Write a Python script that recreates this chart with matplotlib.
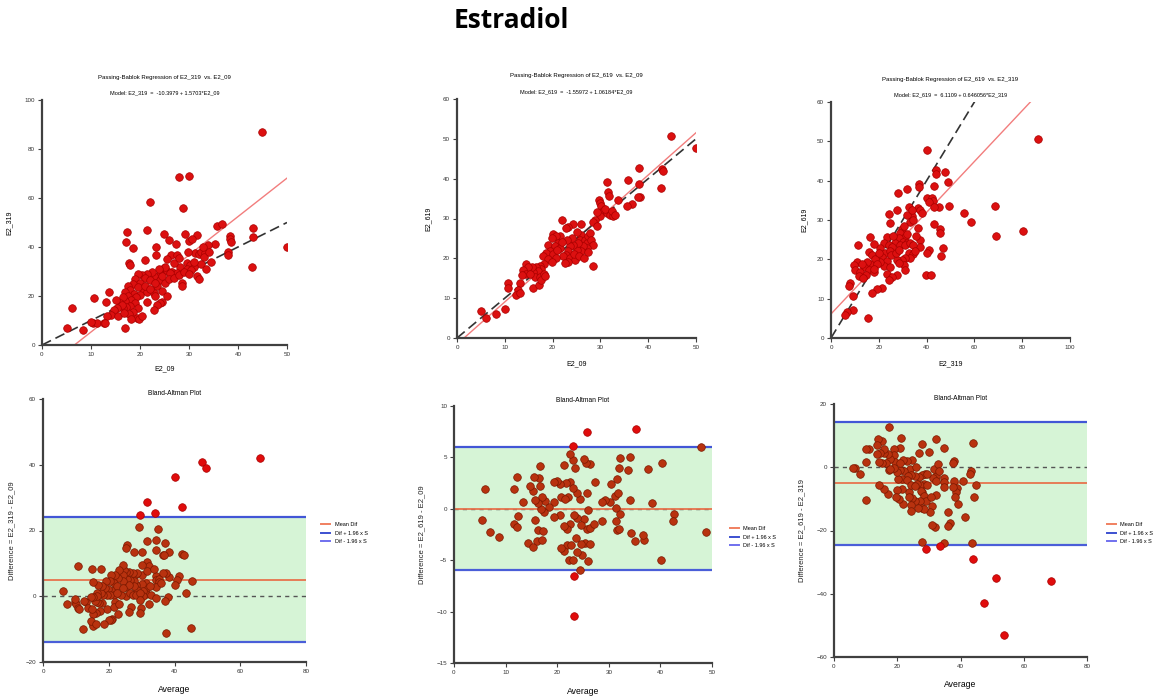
import matplotlib.pyplot as plt
import numpy as np
from matplotlib.lines import Line2D

plt.rcParams['font.family'] = ['Liberation Sans', 'DejaVu Sans']

# (E2_09, E2_319) per sample
pairs_09_319 = [
    (44.9, 86.9), (27.9, 68.6), (30.1, 69.0), (22.1, 58.3), (28.8, 55.8), (50.0, 40.2), (42.9, 31.7),
    (43.0, 47.7), (43.0, 43.9), (35.7, 48.7), (36.7, 49.2), (38.3, 44.6), (38.4, 43.2), (38.5, 42.0),
    (38.0, 37.8), (37.9, 36.6), (35.3, 41.2), (33.8, 40.9), (31.6, 45.0), (29.2, 45.3), (24.8, 45.3),
    (21.4, 46.8), (17.4, 46.0), (17.2, 41.9), (18.5, 39.6), (23.3, 40.0), (23.2, 36.8), (26.0, 43.0),
    (27.3, 41.3), (26.4, 36.8), (27.6, 36.8), (30.1, 42.6), (30.7, 43.2), (31.2, 37.5), (32.0, 37.0),
    (32.5, 37.8), (33.3, 37.5), (33.0, 35.8), (34.0, 38.0), (29.5, 33.4), (30.3, 32.6), (28.2, 32.0),
    (31.1, 31.8), (29.5, 31.2), (31.7, 28.0), (32.1, 26.9), (30.5, 30.5), (32.5, 33.0), (26.9, 33.4),
    (27.9, 35.5), (25.5, 35.0), (26.5, 30.0), (27.5, 29.5), (28.6, 25.2), (28.6, 23.9), (24.8, 31.3),
    (25.5, 30.1), (26.2, 29.4), (24.1, 29.1), (22.8, 28.0), (24.0, 26.7), (25.1, 25.3), (23.5, 23.9),
    (24.5, 28.0), (25.0, 32.0), (23.8, 31.0), (22.5, 30.0), (21.5, 29.0), (20.5, 28.5), (19.5, 29.0),
    (21.0, 27.5), (22.0, 26.5), (24.5, 17.7), (24.1, 17.0), (23.5, 16.4), (22.8, 14.3), (21.4, 17.5),
    (20.7, 22.5), (21.4, 21.8), (22.8, 21.1), (23.1, 19.8), (24.5, 22.0), (25.5, 20.0), (17.7, 33.4),
    (18.0, 32.7), (21.1, 34.5), (19.0, 27.0), (20.0, 25.5), (18.5, 25.0), (17.5, 24.0), (19.5, 23.5),
    (18.0, 22.5), (17.0, 21.5), (18.8, 21.0), (20.0, 20.5), (19.2, 19.5), (17.5, 20.0), (18.2, 18.5),
    (17.0, 18.0), (16.5, 19.5), (19.0, 17.0), (18.0, 16.0), (17.2, 15.5), (16.5, 15.0), (19.5, 15.0),
    (18.5, 13.5), (17.8, 12.5), (19.4, 10.9), (19.8, 10.6), (18.2, 10.8), (17.0, 7.1), (16.0, 17.0),
    (16.3, 16.4), (15.3, 15.0), (14.6, 14.3), (14.0, 12.3), (13.3, 11.9), (13.6, 21.8), (15.0, 18.4),
    (13.1, 17.5), (10.7, 19.1), (10.5, 8.9), (11.2, 8.9), (12.6, 8.9), (12.9, 9.1), (10.0, 9.3),
    (8.4, 6.1), (6.2, 15.3), (5.1, 6.8), (15.5, 12.0), (16.8, 13.0), (20.5, 12.0), (21.0, 24.0),
    (22.0, 23.0), (23.0, 25.5), (26.0, 27.0), (27.0, 27.5), (28.0, 28.5), (29.0, 30.0), (30.0, 29.0),
    (33.5, 31.0), (31.0, 34.0), (34.5, 34.0), (32.8, 40.0), (29.8, 38.0),
]

# (E2_09, E2_619) per sample
pairs_09_619 = [
    (44.8, 50.8), (50.0, 47.7), (38.1, 42.6), (38.1, 38.7), (35.7, 39.6), (31.3, 39.1), (42.7, 37.7),
    (42.9, 42.4), (43.0, 41.8), (38.3, 35.3), (37.8, 35.3), (36.7, 33.6), (35.5, 33.1), (33.7, 34.6),
    (31.6, 36.6), (31.8, 35.6), (29.7, 34.6), (29.9, 33.9), (30.2, 33.1), (30.6, 31.8), (31.3, 31.4),
    (32.0, 30.8), (32.7, 30.6), (29.9, 30.6), (29.2, 31.6), (31.0, 32.5), (32.5, 32.0), (33.0, 31.0),
    (28.4, 18.0), (28.8, 29.7), (28.4, 29.1), (29.2, 28.0), (26.0, 28.6), (24.2, 28.6), (23.3, 27.8),
    (22.8, 27.6), (22.0, 29.5), (26.0, 25.9), (25.7, 24.7), (26.7, 24.7), (27.1, 23.8), (27.4, 25.5),
    (27.8, 26.3), (28.1, 24.7), (28.5, 23.4), (27.1, 22.6), (26.4, 23.0), (26.0, 21.8), (25.0, 22.2),
    (25.4, 23.8), (24.3, 23.4), (23.6, 23.0), (23.3, 21.8), (22.9, 20.9), (22.2, 20.5), (23.6, 20.1),
    (24.7, 19.7), (23.3, 19.2), (22.6, 18.8), (24.0, 25.0), (25.0, 26.5), (23.0, 24.5), (21.5, 25.5),
    (20.1, 26.2), (20.8, 25.5), (19.8, 25.1), (21.2, 23.8), (19.1, 23.4), (20.5, 23.0), (21.5, 22.6),
    (19.4, 21.8), (18.7, 21.4), (20.1, 21.2), (20.8, 20.2), (18.0, 20.6), (19.1, 19.8), (19.8, 19.0),
    (18.3, 18.5), (17.3, 18.1), (17.6, 17.3), (16.6, 17.7), (16.9, 16.9), (15.9, 16.5), (15.6, 17.8),
    (16.3, 15.2), (17.3, 15.2), (18.3, 16.1), (15.9, 12.6), (17.1, 13.4), (17.6, 14.5), (18.5, 15.5),
    (14.5, 18.7), (14.9, 17.9), (13.9, 17.0), (14.4, 16.1), (15.2, 16.1), (13.7, 15.9), (13.1, 13.8),
    (12.8, 12.1), (12.4, 10.9), (13.1, 11.3), (10.7, 13.8), (10.7, 12.6), (10.0, 7.3), (8.2, 5.9),
    (5.0, 6.9), (6.0, 4.9), (21.0, 22.0), (22.0, 24.0), (24.5, 21.0), (25.5, 20.5), (26.5, 20.0),
    (27.5, 21.5),
]

# (E2_319, E2_619) per sample
pairs_319_619 = [
    (86.8, 50.7), (40.1, 47.8), (68.7, 33.6), (68.9, 26.0), (80.5, 27.3), (55.8, 31.7), (58.5, 29.6),
    (49.2, 33.6), (48.9, 39.6), (47.8, 42.3), (43.9, 42.7), (43.9, 41.8), (37.0, 39.1), (37.0, 38.4),
    (28.0, 36.8), (31.8, 37.8), (42.9, 38.6), (40.1, 35.7), (42.2, 35.5), (42.6, 34.8), (40.8, 34.6),
    (45.0, 33.4), (42.9, 33.4), (45.4, 27.8), (45.4, 26.8), (42.9, 28.9), (46.7, 22.8), (45.9, 20.9),
    (41.2, 22.4), (40.1, 21.7), (39.7, 16.0), (41.9, 16.1), (37.3, 24.9), (37.3, 23.2), (36.6, 27.9),
    (36.4, 33.0), (37.3, 32.5), (38.0, 31.7), (33.8, 30.9), (31.8, 31.3), (33.1, 29.6), (34.5, 30.0),
    (32.5, 33.4), (33.8, 32.5), (24.1, 31.5), (24.8, 29.2), (27.6, 32.5), (29.7, 27.6), (29.0, 26.6),
    (31.0, 25.7), (28.3, 25.3), (30.1, 24.5), (31.8, 24.1), (26.9, 24.1), (29.0, 23.7), (31.1, 23.7),
    (33.1, 24.1), (34.5, 23.7), (32.5, 21.7), (34.3, 21.3), (35.2, 22.0), (33.1, 20.3), (31.1, 20.3),
    (29.7, 19.9), (27.6, 19.9), (30.4, 18.6), (28.3, 19.0), (31.1, 17.3), (27.6, 16.1), (23.4, 25.7),
    (22.0, 24.1), (24.1, 23.7), (25.5, 23.2), (20.6, 22.8), (22.7, 21.6), (24.8, 22.0), (21.3, 20.5),
    (23.4, 19.6), (22.0, 18.3), (20.6, 19.2), (24.8, 18.0), (23.4, 16.3), (25.5, 15.4), (24.1, 14.8),
    (21.3, 12.7), (19.2, 12.4), (17.1, 11.4), (16.4, 25.7), (17.8, 23.8), (16.1, 21.9), (17.1, 21.0),
    (18.5, 20.1), (16.4, 18.9), (15.0, 19.3), (13.6, 18.0), (15.7, 17.2), (17.8, 16.8), (19.2, 18.9),
    (11.1, 23.7), (10.9, 19.3), (13.0, 18.9), (9.5, 18.5), (10.2, 17.2), (12.3, 16.8), (11.6, 15.8),
    (8.1, 14.0), (7.4, 13.1), (9.2, 10.8), (9.2, 7.2), (6.7, 6.5), (6.0, 5.9), (15.5, 5.0),
    (14.5, 16.0), (13.5, 15.2), (18.0, 17.5), (20.0, 21.5), (26.0, 26.0), (25.0, 21.0), (27.0, 21.5),
    (28.5, 22.5), (32.0, 26.5), (35.5, 26.0), (30.5, 28.5),
]

# Passing-Bablok fits: (intercept, slope)
fit_a = (-10.3979, 1.5703)
fit_b = (-1.55972, 1.06184)
fit_c = (6.1109, 0.646056)

# Bland-Altman: (mean diff, mean + 1.96 S, mean - 1.96 S)
ba_a = (5.0, 24.0, -14.0)
ba_b = (0.0, 6.0, -6.0)
ba_c = (-5.0, 14.3, -24.5)

W, H = 1165, 696
DARK = '#404040'


def rect(l, r, t, b):
    return [l / W, 1 - b / H, (r - l) / W, (b - t) / H]


def style_axes(ax, xmax, xstep, ylim, ystep):
    ax.set_xlim(0, xmax)
    ax.set_ylim(*ylim)
    ax.set_xticks(np.arange(0, xmax + 0.1, xstep))
    ax.set_yticks(np.arange(ylim[0], ylim[1] + 0.1, ystep))
    for s in ['top', 'right']:
        ax.spines[s].set_visible(False)
    for s in ['left', 'bottom']:
        ax.spines[s].set_linewidth(1.6)
        ax.spines[s].set_color(DARK)
    ax.tick_params(direction='out', length=3, width=0.8, color=DARK,
                   labelsize=4.5, labelcolor='#333333', pad=2)


def scatter_panel(ax, pairs, fit, xmax, xstep, ymax, ystep, xname, yname):
    x, y = np.array(pairs).T
    xs = np.linspace(0, xmax, 300)
    ax.plot(xs, fit[0] + fit[1] * xs, color='#f27d7d', lw=1.0, zorder=2)
    ax.plot([0, xmax], [0, xmax], color='#333333', lw=1.2, dashes=(6, 3), zorder=2)
    ax.scatter(x, y, s=30, c='#dc1010', edgecolors='#a80000', linewidths=0.5, zorder=3)
    style_axes(ax, xmax, xstep, (0, ymax), ystep)
    ax.annotate(f'Passing-Bablok Regression of {yname}  vs. {xname}', xy=(0.5, 1), xycoords='axes fraction',
                xytext=(0, 23), textcoords='offset pixels', ha='center', va='center', fontsize=4.3)
    icpt = f'-{abs(fit[0]):g}' if fit[0] < 0 else f'{fit[0]:g}'
    ax.annotate(f'Model: {yname}  =  {icpt} + {fit[1]:g}*{xname}', xy=(0.5, 1),
                xycoords='axes fraction', xytext=(0, 7), textcoords='offset pixels',
                ha='center', va='center', fontsize=4.0)
    ax.set_xlabel(xname, fontsize=5)
    ax.set_ylabel(yname, fontsize=5)


def ba_panel(ax, pairs, stats, xmax, xstep, ylim, ystep, ylabel, legend_x):
    a, b = np.array(pairs).T
    avg = (a + b) / 2
    diff = b - a
    mean, up, lo = stats
    ax.axhspan(lo, up, color='#d6f4d6', zorder=0, lw=0)
    ax.axhline(up, color='#4256d6', lw=1.6, zorder=1)
    ax.axhline(lo, color='#4a5ed8', lw=1.6, zorder=1)
    ax.axhline(0, color='#555555', lw=1.0, ls=(0, (3, 3)), zorder=1)
    ax.axhline(mean, color='#e8704a', lw=1.4, zorder=1, alpha=0.9)
    inside = (diff >= lo) & (diff <= up)
    ax.scatter(avg[inside], diff[inside], s=30, c='#b8320f', edgecolors='#7a1800',
               linewidths=0.5, zorder=3)
    ax.scatter(avg[~inside], diff[~inside], s=30, c='#e00c0c', edgecolors='#a80000',
               linewidths=0.5, zorder=3)
    style_axes(ax, xmax, xstep, ylim, ystep)
    ax.set_title('Bland-Altman Plot', fontsize=4.8, pad=3)
    ax.set_xlabel('Average', fontsize=6.2)
    ax.set_ylabel(ylabel, fontsize=5.5, color='#222222')
    handles = [Line2D([], [], color='#f08060', lw=1.4),
               Line2D([], [], color='#3c50d0', lw=1.4),
               Line2D([], [], color='#7070ee', lw=1.4)]
    labels = ['Mean Dif', 'Dif + 1.96 x S', 'Dif - 1.96 x S']
    ax.legend(handles, labels, loc='center left', bbox_to_anchor=(legend_x, 0.49), frameon=False,
              fontsize=4.0, handlelength=1.6, handletextpad=0.8, labelspacing=0.6, borderaxespad=0)


fig = plt.figure(figsize=(W / 100, H / 100), dpi=100)
fig.text(511 / W, 1 - 21 / H, 'Estradiol', ha='center', va='center', fontsize=19,
         fontweight='bold', family=['Open Sans', 'DejaVu Sans'])

ax1 = fig.add_axes(rect(42, 287, 100, 345))
scatter_panel(ax1, pairs_09_319, fit_a, 50, 10, 100, 20, 'E2_09', 'E2_319')
ax2 = fig.add_axes(rect(457, 696, 99, 338))
scatter_panel(ax2, pairs_09_619, fit_b, 50, 10, 60, 10, 'E2_09', 'E2_619')
ax3 = fig.add_axes(rect(831, 1070, 102, 338))
scatter_panel(ax3, pairs_319_619, fit_c, 100, 20, 60, 10, 'E2_319', 'E2_619')

ax4 = fig.add_axes(rect(43, 306, 399, 662))
ba_panel(ax4, pairs_09_319, ba_a, 80, 20, (-20, 60), 20, 'Difference = E2_319 - E2_09', 1.05)
ax5 = fig.add_axes(rect(454, 712, 406, 663))
ba_panel(ax5, pairs_09_619, ba_b, 50, 10, (-15, 10), 5, 'Difference = E2_619 - E2_09', 1.06)
ax6 = fig.add_axes(rect(834, 1087, 404, 657))
ba_panel(ax6, pairs_319_619, ba_c, 80, 20, (-60, 20), 20, 'Difference = E2_619 - E2_319', 1.07)

ax1.xaxis.set_label_coords(0.5, -0.082)
ax1.yaxis.set_label_coords(-0.12, 0.5)
ax2.xaxis.set_label_coords(0.5, -0.092)
ax2.yaxis.set_label_coords(-0.105, 0.5)
ax3.xaxis.set_label_coords(0.5, -0.093)
ax3.yaxis.set_label_coords(-0.096, 0.5)
ax4.xaxis.set_label_coords(0.5, -0.087)
ax4.yaxis.set_label_coords(-0.106, 0.5)
ax5.xaxis.set_label_coords(0.5, -0.093)
ax5.yaxis.set_label_coords(-0.112, 0.5)
ax6.xaxis.set_label_coords(0.5, -0.091)
ax6.yaxis.set_label_coords(-0.115, 0.5)

fig.savefig('out.png', dpi=100)
